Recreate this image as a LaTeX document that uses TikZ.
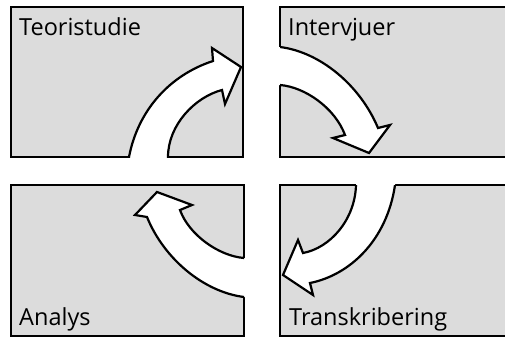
\documentclass[tikz,border=0pt]{standalone}
\usepackage{fontspec}
\setmainfont{Open Sans}
\definecolor{boxgray}{RGB}{220,220,220}
\begin{document}
\begin{tikzpicture}[x=1pt,y=-1pt,
  boxfill/.style={fill=boxgray},
  boxline/.style={draw=black,line width=2.6pt},
  arrowfill/.style={fill=white},
  arrowline/.style={draw=black,line width=2.2pt,line join=miter},
  lbl/.style={inner sep=0pt,anchor=base west,font=\fontsize{23.5}{28}\selectfont}]
\clip (0,0) rectangle (505,340);
\fill[white] (0,0) rectangle (505,340);
% boxes
\path[boxfill,boxline] (11,7) rectangle (243,157);
\path[boxfill,boxline] (280,7) rectangle (515,157);
\path[boxfill,boxline] (11,185) rectangle (244,336);
\path[boxfill,boxline] (280,185) rectangle (515,336);
% arrow paths
\def\arrTL{(129,166) -- (129,157) .. controls (138,110) and (170,75) .. (213,61) -- (212,48) -- (241,67) -- (225,104) -- (222,90) .. controls (195,97) and (168,125) .. (168,157) -- (168,166) -- cycle}
\def\arrTR{(271,47) -- (280,47) .. controls (320,52) and (360,85) .. (378,128) -- (390,125) -- (369,153) -- (333,138) -- (345,135) .. controls (335,108) and (305,87) .. (280,85) -- (271,85) -- cycle}
\def\arrBR{(395,177) -- (395,185) .. controls (387,240) and (350,275) .. (310,283) -- (313,295) -- (283,275) -- (298,240) -- (303,253) .. controls (330,248) and (355,220) .. (356,185) -- (356,177) -- cycle}
\def\arrBL{(253,297) -- (244,297) .. controls (204,292) and (164,259) .. (147,217) -- (135,215) -- (157,192) -- (192,205) -- (180,210) .. controls (189,235) and (219,256) .. (244,258) -- (253,258) -- cycle}
\path[arrowfill] \arrTL;
\path[arrowfill] \arrTR;
\path[arrowfill] \arrBR;
\path[arrowfill] \arrBL;
\begin{scope}
  \clip (11,7) rectangle (243,157);
  \path[arrowline] \arrTL;
\end{scope}
\begin{scope}
  \clip (280,7) rectangle (515,157);
  \path[arrowline] \arrTR;
\end{scope}
\begin{scope}
  \clip (280,185) rectangle (515,336);
  \path[arrowline] \arrBR;
\end{scope}
\begin{scope}
  \clip (11,185) rectangle (244,336);
  \path[arrowline] \arrBL;
\end{scope}
% labels
\node[lbl] (teori) at (19,35) {Teoristudie};
\node[lbl] (intervju) at (288,35) {Intervjuer};
\node[lbl] (analys) at (19,325) {Analys};
\node[lbl] (transkr) at (289,325) {Transkribering};
\end{tikzpicture}
\end{document}
